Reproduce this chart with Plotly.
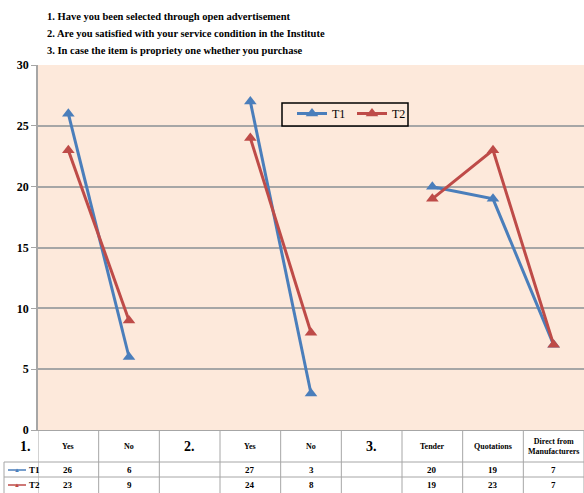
import plotly.graph_objects as go

# Survey responses, grouped by question number
categories = ["Yes", "No", "2.", "Yes", "No", "3.", "Tender", "Quotations", "Direct from<br>Manufacturers"]
t1_values = [26, 6, None, 27, 3, None, 20, 19, 7]
t2_values = [23, 9, None, 24, 8, None, 19, 23, 7]
series_names = ["T1", "T2"]
y_ticks = [0, 5, 10, 15, 20, 25, 30]
questions = [
    "1. Have you been selected through open advertisement",
    "2. Are you satisfied with your service condition in the Institute",
    "3. In case the item is propriety one whether you purchase",
]

BLUE = "#4A7EBB"
RED = "#BE4B48"
PEACH = "#FDE9DB"
GRID = "#A6A6A6"
SERIF = "Liberation Serif"

W, H = 584, 493
ML, MR, MT, MB = 38, 0, 65, 63
plot_h = H - MT - MB
plot_w = W - ML - MR


def py(pixel_y):
    """Convert a pixel row to paper y."""
    return (H - MB - pixel_y) / plot_h


def px(pixel_x):
    """Convert a pixel column to paper x."""
    return (pixel_x - ML) / plot_w


xs = list(range(len(categories)))
fig = go.Figure()
for name, vals, color in [(series_names[0], t1_values, BLUE), (series_names[1], t2_values, RED)]:
    fig.add_trace(go.Scatter(
        x=xs, y=vals, name=name, mode="lines+markers",
        line=dict(color=color, width=3),
        marker=dict(symbol="triangle-up", size=11, color=color),
        connectgaps=False,
    ))

annotations = []
shapes = []

# Question text above the plot
for k, q in enumerate(questions):
    annotations.append(dict(
        x=px(45), y=py(16 + 17.5 * k), xref="paper", yref="paper",
        xanchor="left", yanchor="middle",
        text=f"<b>{q}</b>", showarrow=False, align="left",
        font=dict(family=SERIF, size=10.5, color="black"),
    ))

# Data table below the plot
row_hdr, row_t1, row_t2 = py(447), py(470), py(485)
line_top, line_mid, line_bot = py(462), py(477), py(493)

for i, cat in enumerate(categories):
    big = cat in ("2.", "3.")
    annotations.append(dict(
        x=i, y=row_hdr, xref="x", yref="paper", xanchor="center", yanchor="middle",
        text=f"<b>{cat}</b>", showarrow=False,
        font=dict(family=SERIF, size=14 if big else 8, color="black"),
    ))
    for val, yrow in ((t1_values[i], row_t1), (t2_values[i], row_t2)):
        annotations.append(dict(
            x=i, y=yrow, xref="x", yref="paper", xanchor="center", yanchor="middle",
            text="" if val is None else f"<b>{val}</b>", showarrow=False,
            font=dict(family=SERIF, size=9, color="black"),
        ))

annotations.append(dict(
    x=px(25), y=row_hdr, xref="paper", yref="paper", xanchor="center", yanchor="middle",
    text="<b>1.</b>", showarrow=False,
    font=dict(family=SERIF, size=14, color="black"),
))

# Vertical grid of the table
for i in range(len(categories) + 1):
    shapes.append(dict(type="line", xref="x", yref="paper", x0=i - 0.5, x1=i - 0.5,
                       y0=0, y1=line_bot, line=dict(color=GRID, width=1)))
# Horizontal rules of the table
for yl in (line_top, line_mid):
    shapes.append(dict(type="line", xref="paper", yref="paper", x0=px(4), x1=1,
                       y0=yl, y1=yl, line=dict(color=GRID, width=1)))
shapes.append(dict(type="line", xref="paper", yref="paper", x0=px(4), x1=px(4),
                   y0=line_top, y1=line_bot, line=dict(color=GRID, width=1)))

# Series keys in the table's first column
for name, color, yrow in ((series_names[0], BLUE, row_t1), (series_names[1], RED, row_t2)):
    shapes.append(dict(type="line", xref="paper", yref="paper", x0=px(8), x1=px(26),
                       y0=yrow, y1=yrow, line=dict(color=color, width=1.5)))
    annotations.append(dict(x=px(17), y=yrow, xref="paper", yref="paper",
                            xanchor="center", yanchor="middle", text="▲",
                            showarrow=False, font=dict(size=6, color=color)))
    annotations.append(dict(x=px(27), y=yrow, xref="paper", yref="paper",
                            xanchor="left", yanchor="middle",
                            text=f"<b>{name}</b>", showarrow=False,
                            font=dict(family=SERIF, size=9, color="black")))

# Legend frame
shapes.append(dict(type="rect", xref="paper", yref="paper", layer="above",
                   x0=px(282), x1=px(408), y0=py(126), y1=py(103),
                   line=dict(color="black", width=1.5), fillcolor=PEACH))

fig.update_layout(
    width=W, height=H,
    margin=dict(l=ML, r=MR, t=MT, b=MB, pad=0),
    paper_bgcolor="white",
    plot_bgcolor=PEACH,
    showlegend=True,
    legend=dict(
        orientation="h", x=px(292), y=py(99), xanchor="left", yanchor="top",
        bgcolor="rgba(0,0,0,0)", borderwidth=0,
        font=dict(family=SERIF, size=12, color="black"),
        entrywidth=15, itemwidth=30,
    ),
    xaxis=dict(
        range=[-0.5, len(categories) - 0.5], showticklabels=False, showgrid=False,
        zeroline=False, showline=True, linecolor=GRID, linewidth=1, ticks="",
    ),
    yaxis=dict(
        range=[0, 30], tickvals=y_ticks, ticktext=[f"<b>{v}</b>" for v in y_ticks],
        showgrid=True, gridcolor=GRID, gridwidth=1.5, zeroline=False,
        showline=True, linecolor=GRID, linewidth=1.5,
        ticks="outside", ticklen=5, tickcolor=GRID,
        tickfont=dict(family=SERIF, size=12, color="black"),
    ),
    annotations=annotations,
    shapes=shapes,
)

fig.write_html("out.html")
